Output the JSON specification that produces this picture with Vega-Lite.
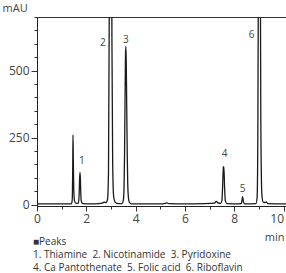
{
  "$schema": "https://vega.github.io/schema/vega-lite/v6.json",
  "autosize": {"type": "none"},
  "width": 249,
  "height": 189,
  "padding": {"left": 37, "top": 17, "right": 0, "bottom": 67},
  "background": "white",
  "config": {
    "font": "Open Sans",
    "view": {"stroke": "#333", "strokeWidth": 1},
    "axis": {"grid": false, "domainColor": "#222", "tickColor": "#333", "labelColor": "#444", "labelFont": "Open Sans", "labelFontSize": 12, "titleFont": "Open Sans", "titleFontWeight": "normal", "titleColor": "#444", "titleFontSize": 12, "labelOverlap": false}
  },
  "title": {
    "text": "■Peaks",
    "subtitle": ["1. Thiamine \u00a02. Nicotinamide \u00a03. Pyridoxine", "4. Ca Pantothenate \u00a05. Folic acid \u00a06. Riboflavin"],
    "orient": "bottom",
    "anchor": "start",
    "frame": "group",
    "offset": -5,
    "dx": -4,
    "font": "Open Sans",
    "fontSize": 10,
    "fontWeight": "normal",
    "color": "#333",
    "subtitleFont": "Open Sans",
    "subtitleFontSize": 10,
    "subtitleColor": "#333",
    "subtitlePadding": 3,
    "subtitleLineHeight": 13
  },
  "datasets": {
    "trace": [
      {"t": 0, "mAU": 3}, {"t": 0.5, "mAU": 3}, {"t": 1.0, "mAU": 3}, {"t": 1.3, "mAU": 3},
      {"t": 1.4, "mAU": 3}, {"t": 1.43, "mAU": 20}, {"t": 1.45, "mAU": 150}, {"t": 1.46, "mAU": 260},
      {"t": 1.47, "mAU": 190}, {"t": 1.49, "mAU": 60}, {"t": 1.52, "mAU": 15}, {"t": 1.58, "mAU": 5},
      {"t": 1.68, "mAU": 6}, {"t": 1.71, "mAU": 40}, {"t": 1.73, "mAU": 100}, {"t": 1.745, "mAU": 120},
      {"t": 1.76, "mAU": 95}, {"t": 1.775, "mAU": 45}, {"t": 1.80, "mAU": 12}, {"t": 1.86, "mAU": 4},
      {"t": 2.2, "mAU": 3}, {"t": 2.5, "mAU": 4}, {"t": 2.65, "mAU": 6}, {"t": 2.72, "mAU": 9},
      {"t": 2.8, "mAU": 8}, {"t": 2.86, "mAU": 20}, {"t": 2.9, "mAU": 120}, {"t": 2.93, "mAU": 700},
      {"t": 2.95, "mAU": 1500}, {"t": 2.98, "mAU": 1600}, {"t": 3.01, "mAU": 1400}, {"t": 3.04, "mAU": 600},
      {"t": 3.07, "mAU": 150}, {"t": 3.11, "mAU": 30}, {"t": 3.18, "mAU": 8}, {"t": 3.3, "mAU": 4},
      {"t": 3.45, "mAU": 4}, {"t": 3.5, "mAU": 15}, {"t": 3.53, "mAU": 60}, {"t": 3.55, "mAU": 180},
      {"t": 3.57, "mAU": 380}, {"t": 3.59, "mAU": 560}, {"t": 3.605, "mAU": 590}, {"t": 3.62, "mAU": 530},
      {"t": 3.64, "mAU": 360}, {"t": 3.66, "mAU": 190}, {"t": 3.68, "mAU": 80}, {"t": 3.71, "mAU": 25},
      {"t": 3.75, "mAU": 8}, {"t": 3.82, "mAU": 3}, {"t": 4.3, "mAU": 3}, {"t": 5.0, "mAU": 3},
      {"t": 5.2, "mAU": 5}, {"t": 5.27, "mAU": 7}, {"t": 5.35, "mAU": 4}, {"t": 6.0, "mAU": 3},
      {"t": 6.8, "mAU": 4}, {"t": 7.2, "mAU": 6}, {"t": 7.28, "mAU": 12}, {"t": 7.33, "mAU": 7},
      {"t": 7.45, "mAU": 5}, {"t": 7.5, "mAU": 15}, {"t": 7.53, "mAU": 70}, {"t": 7.56, "mAU": 140},
      {"t": 7.58, "mAU": 142}, {"t": 7.61, "mAU": 60}, {"t": 7.64, "mAU": 15}, {"t": 7.7, "mAU": 4},
      {"t": 8.2, "mAU": 3}, {"t": 8.29, "mAU": 5}, {"t": 8.32, "mAU": 18}, {"t": 8.34, "mAU": 30},
      {"t": 8.37, "mAU": 12}, {"t": 8.42, "mAU": 3}, {"t": 8.88, "mAU": 4}, {"t": 8.93, "mAU": 30},
      {"t": 8.96, "mAU": 300}, {"t": 8.99, "mAU": 1200}, {"t": 9.02, "mAU": 1500}, {"t": 9.05, "mAU": 1100},
      {"t": 9.08, "mAU": 300}, {"t": 9.12, "mAU": 40}, {"t": 9.17, "mAU": 10}, {"t": 9.25, "mAU": 8},
      {"t": 9.3, "mAU": 10}, {"t": 9.36, "mAU": 4}, {"t": 10.1, "mAU": 3}
    ],
    "labels": [
      {"t": 1.82, "mAU": 164, "label": "1"},
      {"t": 2.67, "mAU": 604, "label": "2"},
      {"t": 3.6, "mAU": 616, "label": "3"},
      {"t": 7.61, "mAU": 190, "label": "4"},
      {"t": 8.34, "mAU": 60, "label": "5"},
      {"t": 8.7, "mAU": 634, "label": "6"}
    ]
  },
  "encoding": {
    "x": {
      "field": "t", "type": "quantitative",
      "scale": {"domain": [0, 10.1], "nice": false, "zero": false},
      "axis": {
        "title": "min", "titleAngle": 0, "titleAlign": "right", "titleBaseline": "middle",
        "titleX": 247, "titleY": 31, "titleFontSize": 11,
        "values": [0, 1, 2, 3, 4, 5, 6, 7, 8, 9, 10],
        "labelExpr": "datum.value % 2 === 0 ? datum.label : ''",
        "labelAlign": {"condition": {"test": "datum.value === 10", "value": "right"}, "value": "center"},
        "tickSize": {"condition": {"test": "datum.value % 2 === 0", "value": 5}, "value": 3},
        "labelPadding": 2, "labelFlush": false, "labelOverlap": false
      }
    },
    "y": {
      "field": "mAU", "type": "quantitative",
      "scale": {"domain": [-5, 700], "nice": false, "zero": false},
      "axis": {
        "title": "mAU", "titleAngle": 0, "titleAlign": "left", "titleBaseline": "middle",
        "titleX": -35, "titleY": -9, "titleFontSize": 11,
        "values": [0, 50, 100, 150, 200, 250, 300, 350, 400, 450, 500, 550, 600, 650, 700],
        "labelExpr": "datum.value % 250 === 0 ? datum.label : ''",
        "tickSize": {"condition": {"test": "datum.value % 250 === 0", "value": 6}, "value": 3},
        "labelPadding": 2, "labelOverlap": false, "labelBound": false, "labelFlush": false
      }
    }
  },
  "layer": [
    {
      "data": {"name": "trace"},
      "mark": {"type": "line", "color": "#1a1a1a", "strokeWidth": 1.3, "clip": true, "interpolate": "monotone"}
    },
    {
      "data": {"name": "labels"},
      "mark": {"type": "text", "fontSize": 10, "color": "#444", "font": "Open Sans", "baseline": "middle"},
      "encoding": {
        "text": {"field": "label"}
      }
    }
  ]
}
